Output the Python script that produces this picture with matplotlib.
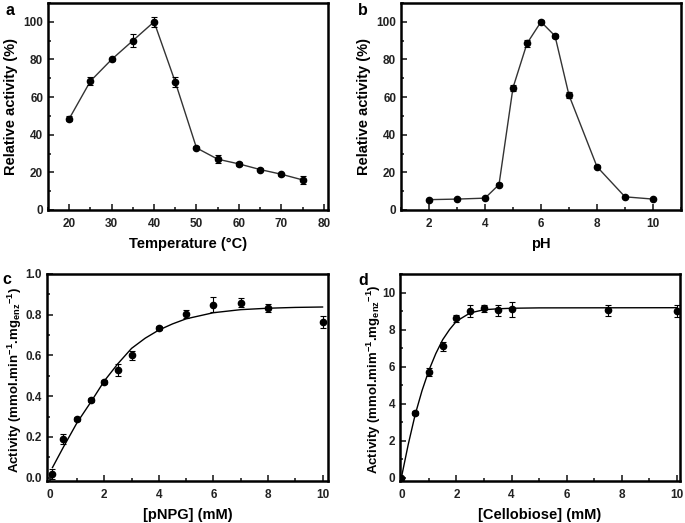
import numpy as np
import matplotlib
matplotlib.use("Agg")
import matplotlib.pyplot as plt
from matplotlib.ticker import MultipleLocator, FormatStrFormatter

plt.rcParams['font.family'] = ['Liberation Sans', 'DejaVu Sans']
plt.rcParams['font.weight'] = 'bold'
plt.rcParams['axes.labelweight'] = 'bold'
plt.rcParams['mathtext.fontset'] = 'custom'
plt.rcParams['mathtext.rm'] = 'Liberation Sans:bold'
plt.rcParams['mathtext.default'] = 'rm'

# a - temperature
temp = [20, 25, 30, 35, 40, 45, 50, 55, 60, 65, 70, 75]
temp_act = [48.5, 68.5, 80, 90, 100, 68, 33, 27, 24.5, 21.5, 19, 16]
temp_err = [1.2, 2, 1, 3.5, 2.5, 2.5, 0.8, 2, 1, 1, 0.8, 2]

# b - pH
ph = [2, 3, 4, 4.5, 5, 5.5, 6, 6.5, 7, 8, 9, 10]
ph_act = [5.5, 5.8, 6.3, 13.5, 65, 88.5, 100, 92.5, 61, 23, 7, 5.8]
ph_err = [0.5, 0.5, 0.5, 0.8, 1.5, 1.8, 0.8, 1.2, 1.5, 0.8, 0.5, 0.5]

# c - pNPG
pnpg = [0.1, 0.5, 1, 1.5, 2, 2.5, 3, 4, 5, 6, 7, 8, 10]
pnpg_act = [0.02, 0.19, 0.29, 0.38, 0.47, 0.53, 0.60, 0.735, 0.805, 0.85, 0.86, 0.835, 0.765]
pnpg_err = [0.025, 0.025, 0.01, 0.01, 0.01, 0.03, 0.02, 0.01, 0.02, 0.035, 0.02, 0.02, 0.03]
pnpg_fit_x = [0.1, 0.5, 1, 1.5, 2, 2.5, 3, 3.5, 4, 4.5, 5, 6, 7, 8, 9, 10]
pnpg_fit_y = [0.05, 0.15, 0.27, 0.37, 0.475, 0.56, 0.635, 0.685, 0.725, 0.755, 0.78, 0.81, 0.825, 0.832, 0.836, 0.838]

# d - cellobiose
cello = [0, 0.5, 1, 1.5, 2, 2.5, 3, 3.5, 4, 7.5, 10]
cello_act = [0, 3.5, 5.7, 7.1, 8.6, 9.0, 9.15, 9.05, 9.1, 9.05, 9.0]
cello_err = [0.05, 0.1, 0.2, 0.25, 0.2, 0.3, 0.2, 0.3, 0.4, 0.3, 0.3]
cello_fit_x = [0, 0.25, 0.5, 0.75, 1, 1.25, 1.5, 1.75, 2, 2.5, 3, 3.5, 4, 5, 10]
cello_fit_y = [0, 1.8, 3.4, 4.7, 5.8, 6.7, 7.45, 8.0, 8.45, 8.9, 9.07, 9.12, 9.15, 9.17, 9.18]

fig = plt.figure(figsize=(6.85, 5.23), dpi=100)
W, H = 685, 523

def make_ax(l, t, r, b):
    return fig.add_axes([l / W, 1 - b / H, (r - l) / W, (b - t) / H])

ax_a = make_ax(48, 3, 328, 210)
ax_b = make_ax(401, 3, 681, 210)
ax_c = make_ax(47, 274, 328, 481)
ax_d = make_ax(400, 274, 680, 481)

def style(ax, xmaj, ymaj):
    ax.xaxis.set_major_locator(MultipleLocator(xmaj))
    ax.xaxis.set_minor_locator(MultipleLocator(xmaj / 2))
    ax.yaxis.set_major_locator(MultipleLocator(ymaj))
    ax.yaxis.set_minor_locator(MultipleLocator(ymaj / 2))
    ax.tick_params(which='both', direction='in', labelsize=8.5, width=1.2,
                   colors='#222222')
    ax.tick_params(which='major', length=4)
    ax.tick_params(which='minor', length=2)
    ax.tick_params(axis='x', pad=6)
    for s in ax.spines.values():
        s.set_linewidth(1.8)

def points(ax, x, y, err, line=True):
    ax.errorbar(x, y, yerr=err, fmt='o', color='black', ms=4.5, capsize=2,
                elinewidth=0.8, capthick=0.8, zorder=3)
    if line:
        ax.plot(x, y, color='#333333', lw=1.0, zorder=2)

points(ax_a, temp, temp_act, temp_err)
ax_a.set_xlim(15, 81)
ax_a.set_ylim(0, 110)
style(ax_a, 10, 20)
ax_a.set_xlabel('Temperature (°C)', fontsize=10.5, labelpad=5)
ax_a.set_ylabel('Relative activity (%)', fontsize=10.5, labelpad=4)

points(ax_b, ph, ph_act, ph_err)
ax_b.set_xlim(1, 11)
ax_b.set_ylim(0, 110)
style(ax_b, 2, 20)
ax_b.set_xlabel('pH', fontsize=10.5, labelpad=5)
ax_b.set_ylabel('Relative activity (%)', fontsize=10.5, labelpad=4)

points(ax_c, pnpg, pnpg_act, pnpg_err, line=False)
ax_c.plot(pnpg_fit_x, pnpg_fit_y, color='black', lw=1.0, zorder=2)
ax_c.set_xlim(-0.1, 10.2)
ax_c.set_ylim(-0.016, 1.0)
style(ax_c, 2, 0.2)
ax_c.yaxis.set_major_formatter(FormatStrFormatter('%.1f'))
ax_c.set_xlabel('[pNPG] (mM)', fontsize=10.5, labelpad=5)
ax_c.set_ylabel(r'Activity (mmol.min$^{-1}$.mg$_{enz}$$^{-1}$)', fontsize=9.5)
ax_c.yaxis.set_label_coords(-0.083, 0.49)

points(ax_d, cello, cello_act, cello_err, line=False)
ax_d.plot(cello_fit_x, cello_fit_y, color='black', lw=1.0, zorder=2)
ax_d.set_xlim(-0.05, 10.12)
ax_d.set_ylim(-0.18, 11)
style(ax_d, 2, 2)
ax_d.set_xlabel('[Cellobiose] (mM)', fontsize=10.5, labelpad=5)
ax_d.set_ylabel(r'Activity (mmol.mim$^{-1}$.mg$_{enz}$$^{-1}$)', fontsize=9.5)
ax_d.yaxis.set_label_coords(-0.06, 0.49)

for letter, x, y in [('a', 5, 15), ('b', 358, 15), ('c', 2, 284), ('d', 358, 285)]:
    fig.text(x / W, 1 - y / H, letter, fontsize=11.5, fontweight='bold',
             va='baseline', ha='left')

fig.savefig('out.png', dpi=100)
